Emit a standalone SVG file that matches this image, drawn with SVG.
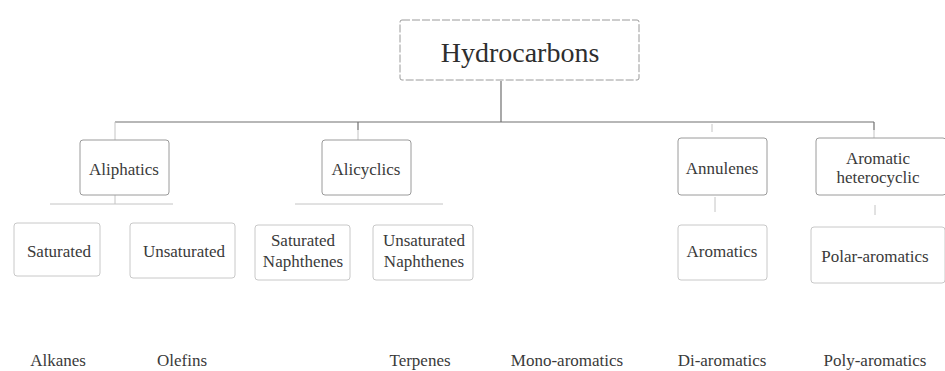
<svg xmlns="http://www.w3.org/2000/svg" width="945" height="371" viewBox="0 0 945 371">
<style>
text{font-family:"Liberation Serif","Times New Roman",serif;fill:#3a3a3a;text-anchor:middle;font-size:17px}
text.title{font-size:28px;fill:#2e2e2e}
.box{fill:#fff;stroke:#9a9a9a;stroke-width:1}
.box2{fill:#fff;stroke:#c8c8c8;stroke-width:1}
.ln{stroke:#707070;stroke-width:1.2;fill:none}
.fl{stroke:#c4c4c4;stroke-width:1;fill:none}
</style>
<rect width="945" height="371" fill="#fff"/>
<g id="connectors">
<path class="ln" d="M501 81V122M115 122H874M358 122V130M874 122V130"/>
<path class="fl" d="M115 122V140M358 130V140M874 130V138M712 124V132"/>
<path class="fl" d="M50 204H173M115 195V204M295 204H443M715 197V212M875 205V215"/>
</g>
<g id="hydrocarbons">
<rect class="box" x="400" y="20" width="239" height="60" rx="2" stroke="#aaa" stroke-dasharray="8 2"/>
<text class="title" x="520" y="62">Hydrocarbons</text>
</g>
<g id="aliphatics">
<rect class="box" x="80" y="140" width="89" height="55" rx="3"/>
<text x="124" y="175">Aliphatics</text>
</g>
<g id="alicyclics">
<rect class="box" x="322" y="140" width="89" height="55" rx="3"/>
<text x="366" y="175">Alicyclics</text>
</g>
<g id="annulenes">
<rect class="box" x="678" y="138" width="89" height="57" rx="3"/>
<text x="722" y="174">Annulenes</text>
</g>
<g id="aromatic-heterocyclic">
<rect class="box" x="816" y="138" width="130" height="57" rx="3"/>
<text x="878" y="164">Aromatic</text>
<text x="878" y="183">heterocyclic</text>
</g>
<g id="saturated">
<rect class="box2" x="14" y="223" width="86" height="53" rx="3"/>
<text x="59" y="257">Saturated</text>
</g>
<g id="unsaturated">
<rect class="box2" x="130" y="223" width="105" height="55" rx="3"/>
<text x="184" y="257">Unsaturated</text>
</g>
<g id="saturated-naphthenes">
<rect class="box2" x="255" y="225" width="95" height="55" rx="3"/>
<text x="303" y="246">Saturated</text>
<text x="303" y="267">Naphthenes</text>
</g>
<g id="unsaturated-naphthenes">
<rect class="box2" x="373" y="225" width="100" height="55" rx="3"/>
<text x="424" y="246">Unsaturated</text>
<text x="424" y="267">Naphthenes</text>
</g>
<g id="aromatics">
<rect class="box2" x="678" y="225" width="89" height="55" rx="3"/>
<text x="722" y="257">Aromatics</text>
</g>
<g id="polar-aromatics">
<rect class="box2" x="811" y="227" width="134" height="56" rx="3"/>
<text x="875" y="262">Polar-aromatics</text>
</g>
<g id="alkanes"><text x="58" y="366">Alkanes</text></g>
<g id="olefins"><text x="182" y="366">Olefins</text></g>
<g id="terpenes"><text x="420" y="366">Terpenes</text></g>
<g id="mono-aromatics"><text x="567" y="366">Mono-aromatics</text></g>
<g id="di-aromatics"><text x="722" y="366">Di-aromatics</text></g>
<g id="poly-aromatics"><text x="875" y="366">Poly-aromatics</text></g>
</svg>
